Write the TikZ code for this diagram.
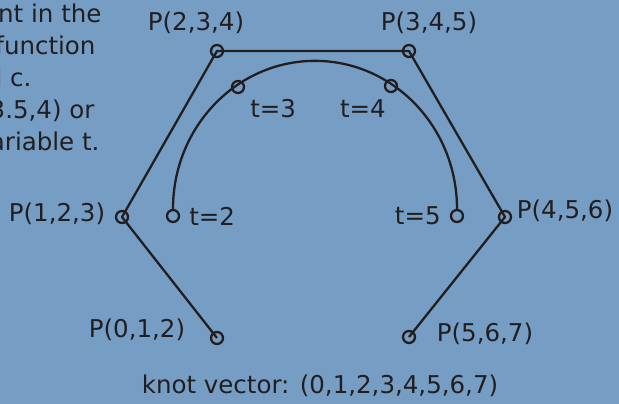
\documentclass[tikz,border=0pt]{standalone}
\usepackage{fontspec}
\setmainfont{DejaVu Sans}
\usetikzlibrary{positioning}
\definecolor{bgblue}{RGB}{118,158,196}
\definecolor{ink}{RGB}{34,30,31}

\begin{document}
\begin{tikzpicture}[
    x=1pt, y=-1pt,
    every node/.style={font=\fontsize{24.5}{28}\selectfont, text=ink},
    knot/.style={
        draw=ink, circle, line width=2.3pt,
        minimum size=12pt, inner sep=0pt
    },
    lbl/.style={inner sep=1pt},
    poly/.style={draw=ink, line width=2.3pt, line join=round},
    curve/.style={draw=ink, line width=2.3pt},
]

% ── background ──
\fill[bgblue] (0,0) rectangle (619,404);
\useasboundingbox (0,0) rectangle (619,404);
\clip (0,0) rectangle (619,404);

% ── text cut off at the left ──
\node[anchor=base east] (txta) at (105,23) {nt in the};
\node[anchor=base east] (txtb) at (99,55) {function};
\node[anchor=base east] (txtc) at (35,87) {d c.};
\node[anchor=base east] (txtd) at (98,118) {3.5,4) or};
\node[anchor=base east] (txte) at (103,150) {ariable t.};

% ── control points ──
\node[knot] (p0) at (217,338) {};
\node[knot] (p1) at (122,217) {};
\node[knot] (p2) at (217,51) {};
\node[knot] (p3) at (409,51) {};
\node[knot] (p4) at (505,217) {};
\node[knot] (p5) at (409,337) {};

\draw[poly] (p0.center) -- (p1.center) -- (p2.center)
    -- (p3.center) -- (p4.center) -- (p5.center);

% ── curve and knots ──
\node[knot] (t2) at (173,216) {};
\node[knot] (t3) at (238,87) {};
\node[knot] (t4) at (391,86) {};
\node[knot] (t5) at (457,216) {};

\draw[curve] (t2.north) arc[start angle=180, end angle=0,
    x radius=142pt, y radius=148pt];

% ── labels ──
\node[lbl] (lp0) at (137,330) {P(0,1,2)};
\node[lbl] (lp1) at (57,214) {P(1,2,3)};
\node[lbl] (lp2) at (196,23) {P(2,3,4)};
\node[lbl] (lp3) at (429,23) {P(3,4,5)};
\node[lbl] (lp4) at (565,211) {P(4,5,6)};
\node[lbl] (lp5) at (485,334) {P(5,6,7)};

\node[lbl, right=8pt of t2] (lt2) {t=2};
\node[lbl, below right=6pt and 6pt of t3] (lt3) {t=3};
\node[lbl, below left=7pt and -1pt of t4] (lt4) {t=4};
\node[lbl, left=8pt of t5] (lt5) {t=5};

\node[lbl] (kv) at (320,386) {knot vector: (0,1,2,3,4,5,6,7)};

\end{tikzpicture}
\end{document}
